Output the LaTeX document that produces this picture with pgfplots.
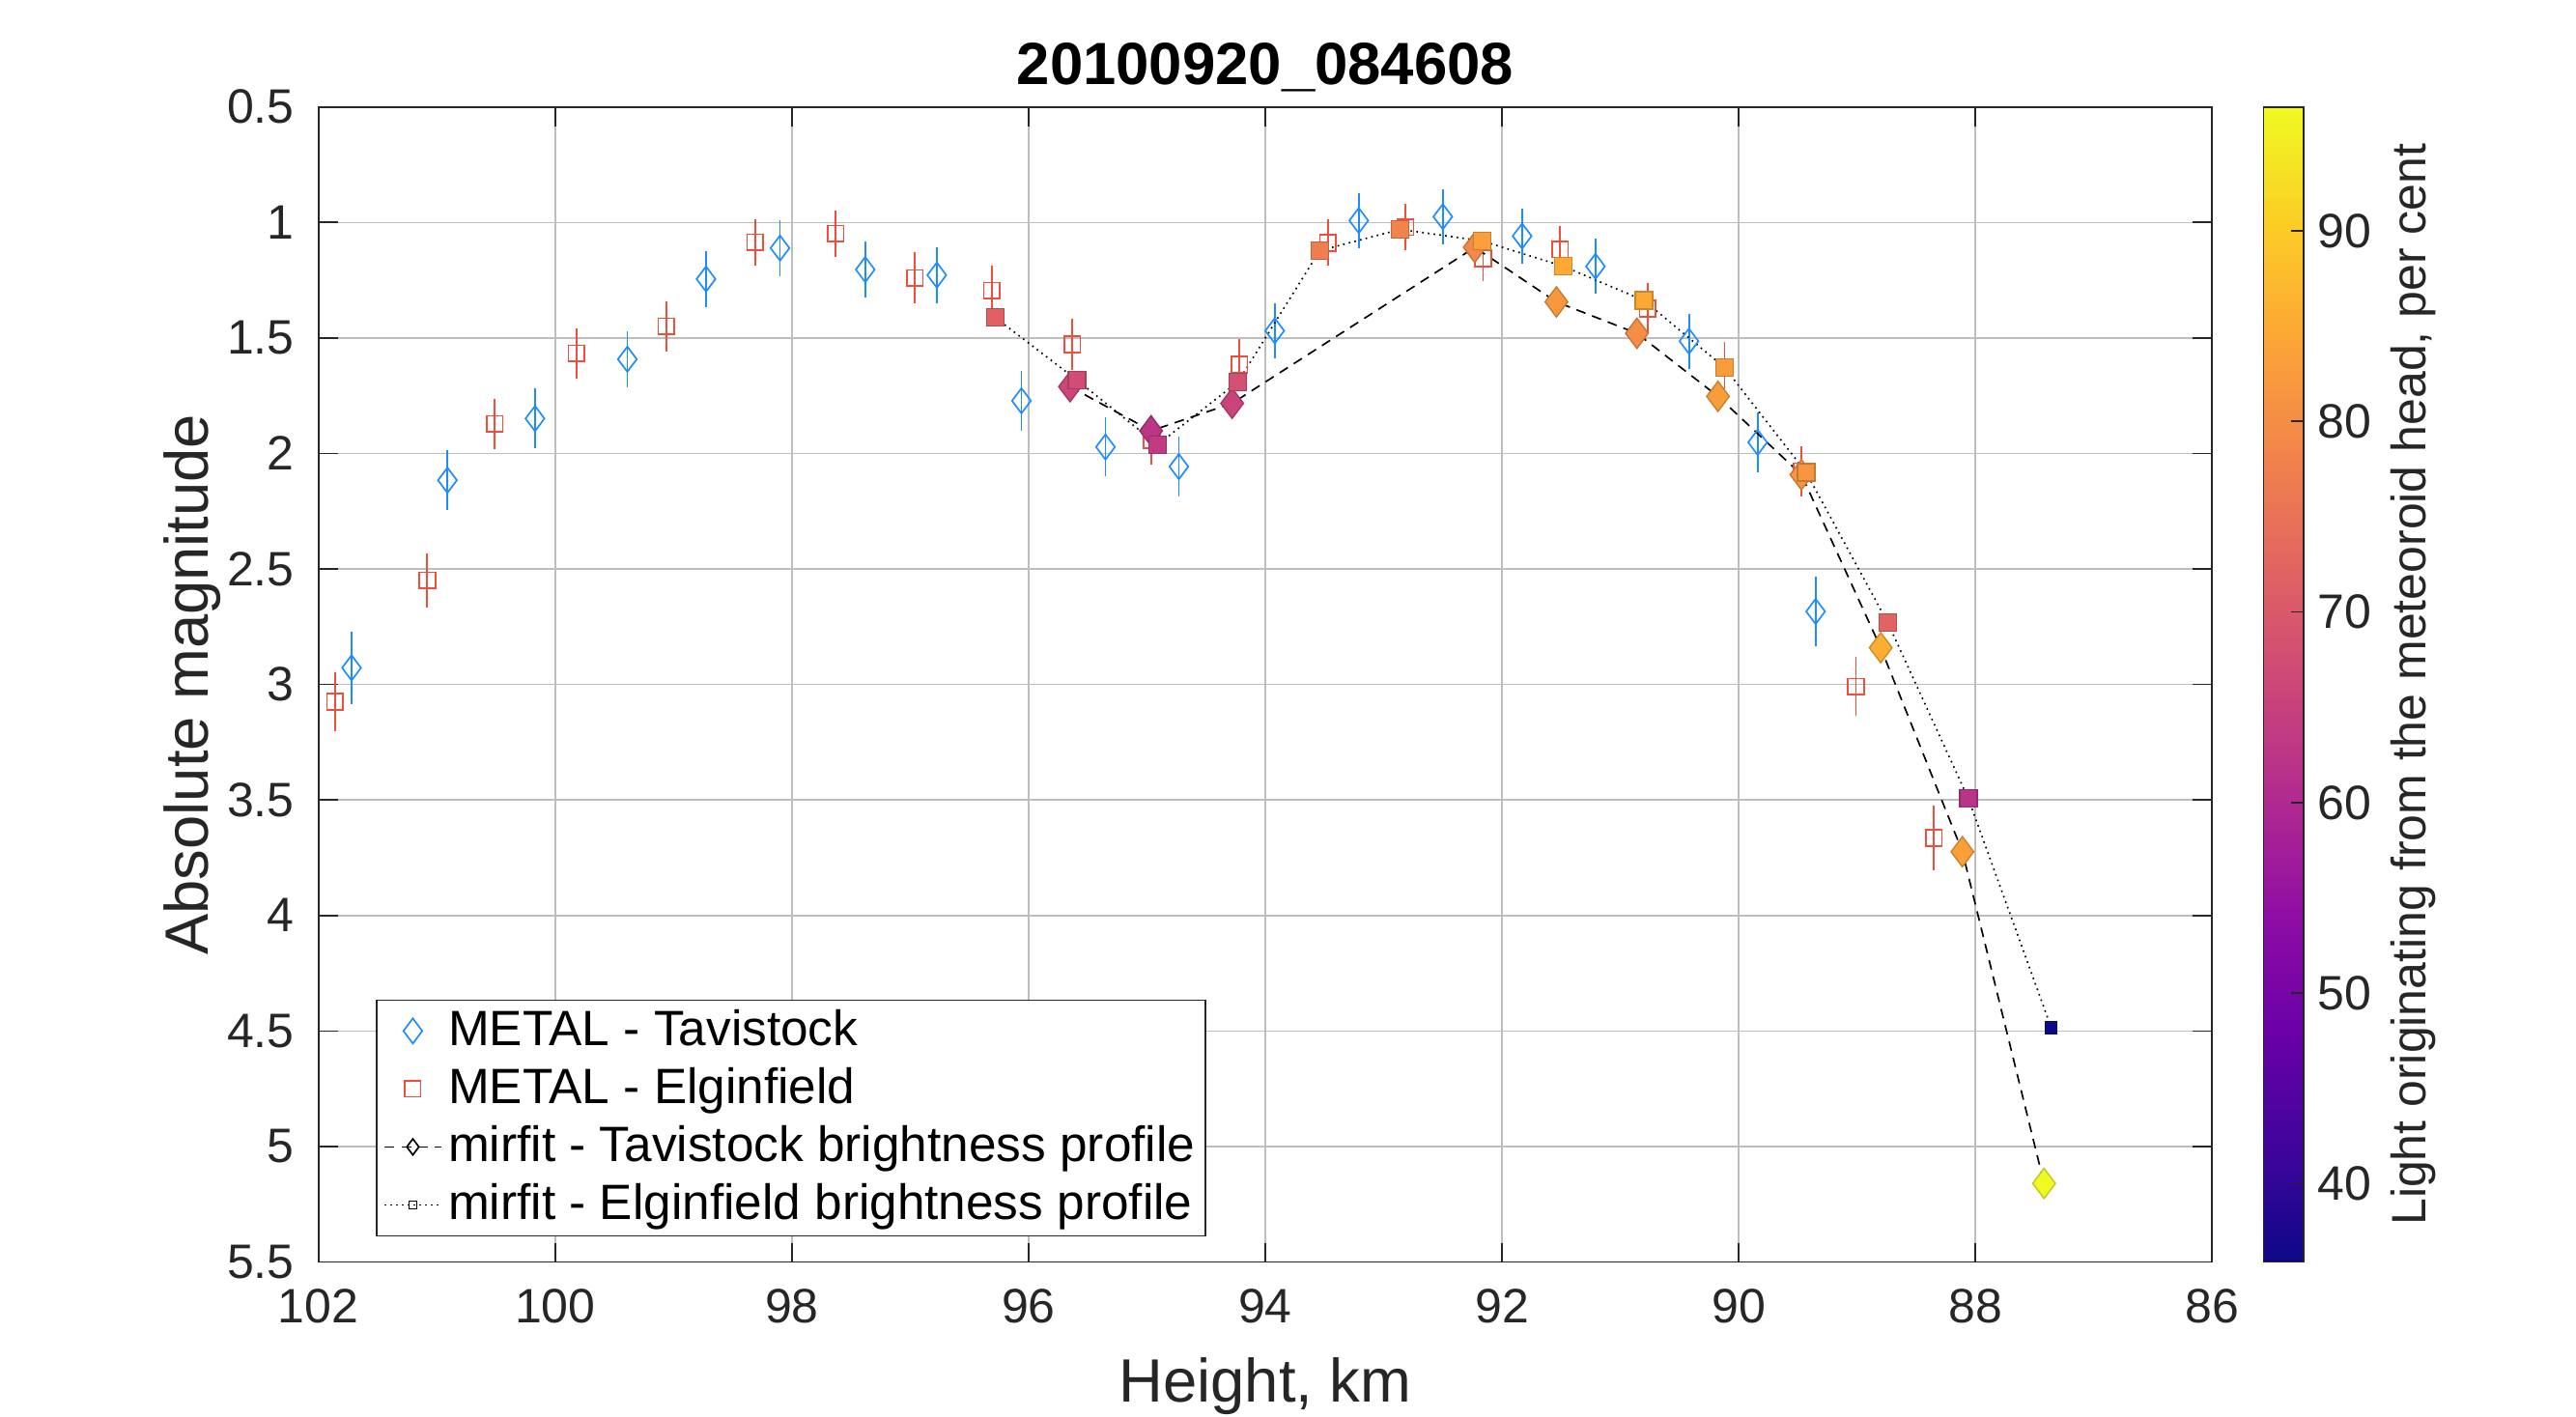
\documentclass[border=0pt]{standalone}
\usepackage{pgfplots}
\pgfplotsset{compat=1.18}
\usepackage{fontspec}
\setmainfont{Liberation Sans}
\definecolor{mblue}{RGB}{30,140,255}
\definecolor{mred}{RGB}{238,78,60}
\definecolor{axisgray}{RGB}{38,38,38}
\definecolor{gridgray}{RGB}{190,190,190}

\pgfplotstableread{
h m e
101.72 2.928 0.158
100.91 2.116 0.129
100.17 1.849 0.129
99.39 1.592 0.12
98.725 1.245 0.12
98.10 1.111 0.12
97.38 1.204 0.12
96.775 1.228 0.12
96.06 1.772 0.13
95.35 1.972 0.128
94.73 2.057 0.128
93.92 1.469 0.12
93.21 0.992 0.12
92.50 0.975 0.12
91.83 1.059 0.12
91.21 1.19 0.12
90.42 1.514 0.12
89.84 1.952 0.128
89.35 2.684 0.15
}\tavmetal

\pgfplotstableread{
h m e
101.86 3.075 0.128
101.08 2.55 0.119
100.51 1.872 0.11
99.82 1.567 0.11
99.06 1.45 0.11
98.31 1.086 0.10
97.63 1.048 0.10
96.96 1.24 0.11
96.31 1.295 0.11
95.63 1.528 0.11
94.96 1.941 0.108
94.22 1.616 0.11
93.47 1.088 0.10
92.815 1.021 0.10
92.16 1.155 0.10
91.51 1.117 0.10
90.77 1.373 0.11
90.12 1.627 0.11
89.47 2.077 0.108
89.01 3.009 0.128
88.35 3.664 0.139
}\elgmetal

\pgfplotstableread{
h m c
95.65 1.711 66.0
94.965 1.902 62.6
94.28 1.783 65.6
92.23 1.108 79.0
91.54 1.344 82.0
90.86 1.48 80.1
90.175 1.753 82.6
89.47 2.092 81.4
88.80 2.841 85.6
88.11 3.724 83.2
87.42 5.16 96.5
}\tavfit

\pgfplotstableread{
h m c
96.28 1.412 71.6
95.59 1.683 67.4
94.91 1.962 63.8
94.23 1.69 68.0
93.54 1.122 77.1
92.86 1.03 78.3
92.17 1.08 83.2
91.48 1.19 85.0
90.80 1.338 84.7
90.12 1.628 82.6
89.43 2.082 81.4
88.74 2.733 72.3
88.06 3.494 62.0
87.36 4.485 35.9
}\elgfit

\pgfplotstableread{
h m c
87.36 4.485 35.9
}\elgfitlast

\begin{document}
\begin{tikzpicture}
\path[use as bounding box] (-98.9pt,-48.1pt) rectangle (701.1pt,391.9pt);
\begin{axis}[
  at={(0pt,0pt)}, anchor=south west,
  scale only axis, width=588.1pt, height=358.7pt,
  x dir=reverse, xmin=86, xmax=102, xtick={86,88,...,102},
  y dir=reverse, ymin=0.5, ymax=5.5, ytick={0.5,1,1.5,2,2.5,3,3.5,4,4.5,5,5.5},
  grid=major, major grid style={line width=0.45pt, draw=gridgray},
  tick align=inside, major tick length=6pt,
  tick style={line width=0.5pt, draw=axisgray},
  axis line style={line width=0.5pt, draw=axisgray},
  /pgf/number format/assume math mode=true,
  ticklabel style={font=\fontsize{15}{18}\selectfont, text=axisgray},
  xticklabel style={inner sep=0pt, yshift=-8.2pt},
  yticklabel style={inner sep=0pt, xshift=-7.3pt},
  title={20100920\_084608},
  title style={font=\bfseries\fontsize{18.5}{22}\selectfont, at={(axis description cs:0.5,1)}, anchor=base, yshift=0.9pt, inner sep=0pt},
  xlabel={Height, km},
  xlabel style={font=\fontsize{19}{22}\selectfont, text=axisgray, at={(axis description cs:0.5,0)}, anchor=north, yshift=-29.5pt, inner sep=0pt},
  ylabel={Absolute magnitude},
  ylabel style={font=\fontsize{19}{22}\selectfont, text=axisgray, at={([xshift=-34.4pt]axis description cs:0,0.5)}, anchor=base, inner sep=0pt},
  colormap={plasma}{rgb255=(13,8,135) rgb255=(65,4,157) rgb255=(106,0,168) rgb255=(143,13,164) rgb255=(177,42,144) rgb255=(204,71,120) rgb255=(225,100,98) rgb255=(242,132,75) rgb255=(252,166,54) rgb255=(252,206,37) rgb255=(240,249,33)},
  point meta min=35.9, point meta max=96.5,
  colorbar,
  colorbar shift/.style={xshift=7.6pt},
  colorbar style={
    width=12.4pt,
    ytick={40,50,...,90},
    ytick pos=right,
    tick align=inside, major tick length=3.7pt,
    tick style={line width=0.5pt, draw=axisgray},
    axis line style={line width=0.5pt, draw=axisgray},
    /pgf/number format/assume math mode=true,
    yticklabel style={font=\fontsize{15}{18}\selectfont, text=axisgray, inner sep=0pt, anchor=west, xshift=4.3pt},
    ylabel={Light originating from the meteoroid head, per cent},
    ylabel style={font=\fontsize{15}{18}\selectfont, text=axisgray, at={([xshift=37.9pt]axis description cs:1,0.5)}, anchor=base, inner sep=0pt},
  },
  legend style={
    at={(0.0304,0.022)}, anchor=south west,
    draw=axisgray, line width=0.5pt, fill=white,
    font=\fontsize{15.4}{17}\selectfont,
    inner xsep=2.2pt, inner ysep=0.6pt,
    nodes={inner sep=1pt, text height=12.6pt, text depth=3.4pt},
    column sep=1pt,
  },
  legend cell align=left,
  legend image code/.code={\draw[mark repeat=2,mark phase=2,#1] plot coordinates {(0pt,0pt) (8.75pt,0pt) (17.5pt,0pt)};},
]

\addlegendimage{only marks, mark=diamond, mark size=3.9pt, mblue, mark options={line width=0.5pt}}
\addlegendentry{METAL - Tavistock}
\addlegendimage{only marks, mark=square, mark size=2.45pt, mred, mark options={line width=0.5pt}}
\addlegendentry{METAL - Elginfield}
\addlegendimage{black, line width=0.5pt, dash pattern=on 3pt off 2.2pt, mark=diamond, mark size=2.5pt, mark options={solid, fill=white, line width=0.5pt}}
\addlegendentry{mirfit - Tavistock brightness profile}
\addlegendimage{black, line width=0.5pt, dash pattern=on 0.5pt off 1.3pt, mark=square, mark size=1.2pt, mark options={solid, fill=white, line width=0.5pt}}
\addlegendentry{mirfit - Elginfield brightness profile}

\addplot[forget plot, only marks, mark=diamond, mark size=3.9pt, mblue, mark options={line width=0.5pt},
  error bars/.cd, y dir=both, y explicit, error mark=none, error bar style={line width=0.55pt, mblue}]
  table[x=h, y=m, y error=e] {\tavmetal};
\addplot[forget plot, only marks, mark=square, mark size=2.5pt, mred, mark options={line width=0.5pt},
  error bars/.cd, y dir=both, y explicit, error mark=none, error bar style={line width=0.55pt, mred}]
  table[x=h, y=m, y error=e] {\elgmetal};

\addplot[forget plot, black, line width=0.5pt, dash pattern=on 3pt off 2.2pt, no marks] table[x=h, y=m] {\tavfit};
\addplot[forget plot, black, line width=0.5pt, dash pattern=on 0.5pt off 1.3pt, no marks] table[x=h, y=m] {\elgfit};

\addplot[forget plot, scatter, only marks, mark=diamond*, mark size=4.7pt, scatter src=explicit] table[x=h, y=m, meta=c] {\tavfit};
\addplot[forget plot, scatter, only marks, mark=square*, mark size=2.7pt, scatter src=explicit, skip coords between index={13}{14}] table[x=h, y=m, meta=c] {\elgfit};
\addplot[forget plot, scatter, only marks, mark=square*, mark size=1.85pt, scatter src=explicit] table[x=h, y=m, meta=c] {\elgfitlast};

\end{axis}
\end{tikzpicture}
\end{document}
